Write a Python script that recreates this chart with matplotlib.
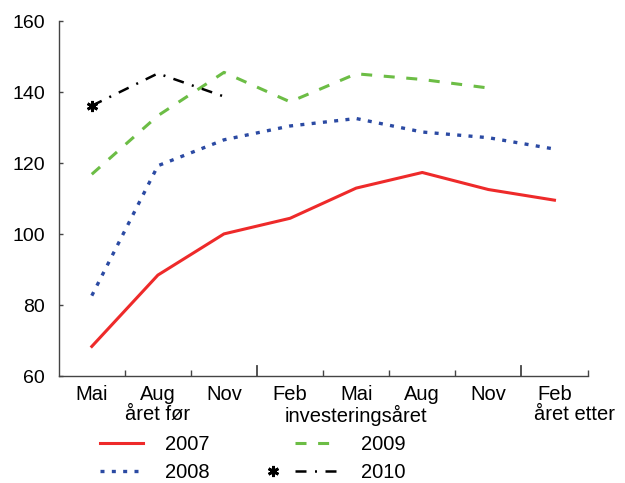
import matplotlib
matplotlib.use("Agg")
import matplotlib.pyplot as plt
from matplotlib.legend_handler import HandlerBase
from matplotlib.lines import Line2D

plt.rcParams["font.family"] = ["Liberation Sans", "DejaVu Sans"]

months = ["Mai", "Aug", "Nov", "Feb", "Mai", "Aug", "Nov", "Feb"]
year_labels = [(1, "året før"), (4, "investeringsåret"), (7.3, "året etter")]

s2007 = [68.4, 88.5, 100.1, 104.5, 113.0, 117.4, 112.6, 109.6]
s2008 = [82.7, 119.3, 126.6, 130.5, 132.6, 128.8, 127.2, 124.0]
s2009 = [116.9, 133.4, 145.6, 137.3, 145.2, 143.6, 141.2]
s2010 = [136.2, 145.3, 138.8]

RED = "#ee2a2a"
BLUE = "#2b4aa3"
GREEN = "#6cbd45"
DASHDOT = (0, (4.4, 3.4, 0.8, 3.4))
FS = 14.5


class MarkerLeftHandler(HandlerBase):
    """Legend entry with marker drawn to the left of the line."""

    def create_artists(self, legend, orig_handle, xdescent, ydescent,
                       width, height, fontsize, trans):
        y = (height - ydescent) / 2
        line = Line2D([-xdescent, -xdescent + width], [y, y],
                      color=orig_handle.get_color(),
                      linestyle=DASHDOT,
                      linewidth=orig_handle.get_linewidth())
        mark = Line2D([-xdescent - 0.52 * width], [y], linestyle="none",
                      marker=orig_handle.get_marker(),
                      markersize=orig_handle.get_markersize(),
                      markeredgewidth=orig_handle.get_markeredgewidth(),
                      color=orig_handle.get_color())
        line.set_transform(trans)
        mark.set_transform(trans)
        return [line, mark]


fig = plt.figure(figsize=(6.25, 4.83), dpi=100)
ax = fig.add_axes([0.094, 0.221, 0.846, 0.735])

(l07,) = ax.plot(range(len(s2007)), s2007, color=RED, lw=2.2, label="2007")
(l08,) = ax.plot(range(len(s2008)), s2008, color=BLUE, lw=2.4,
                 linestyle=(0, (1.2, 2.2)), label="2008")
(l09,) = ax.plot(range(len(s2009)), s2009, color=GREEN, lw=2.2,
                 linestyle=(0, (3.6, 3.8)), label="2009")
(l10,) = ax.plot(range(len(s2010)), s2010, color="black", lw=1.8,
                 linestyle=DASHDOT, marker=(6, 2, 0),
                 markersize=8, markeredgewidth=2, markevery=[0], label="2010")

ax.set_xlim(-0.5, 7.5)
ax.set_ylim(60, 160)
ax.set_yticks(range(60, 161, 20))
ax.set_xticks(range(len(months)))
ax.set_xticklabels(months)
ax.set_xticks([0.5, 1.5, 3.5, 4.5, 5.5, 7.5], minor=True)
ax.tick_params(axis="x", which="major", length=0, pad=6, labelsize=FS)
ax.tick_params(axis="x", which="minor", direction="in", length=4, width=1,
               color="#444444")
ax.tick_params(axis="y", direction="in", length=3, width=1, labelsize=14,
               pad=10, color="#444444")
for xb in (2.5, 6.5):
    ax.plot([xb, xb], [0, 0.028], transform=ax.get_xaxis_transform(),
            color="#444444", lw=1.3, clip_on=False)

for side in ("top", "right"):
    ax.spines[side].set_visible(False)
for side in ("left", "bottom"):
    ax.spines[side].set_color("#444444")
    ax.spines[side].set_linewidth(1.0)

for xpos, txt in year_labels:
    ax.annotate(txt, xy=(xpos, 0), xycoords=("data", "axes fraction"),
                xytext=(0, -21), textcoords="offset points",
                ha="center", va="top", fontsize=FS)

fig.legend(handles=[l07, l08, l09, l10], ncol=2, loc="upper left",
           bbox_to_anchor=(0.16, 0.099), frameon=False, fontsize=FS,
           handlelength=2.14, handletextpad=1.1, columnspacing=4.24,
           labelspacing=0.45, borderaxespad=0, borderpad=0,
           handler_map={l10: MarkerLeftHandler()})

fig.savefig("out.png", dpi=100)
